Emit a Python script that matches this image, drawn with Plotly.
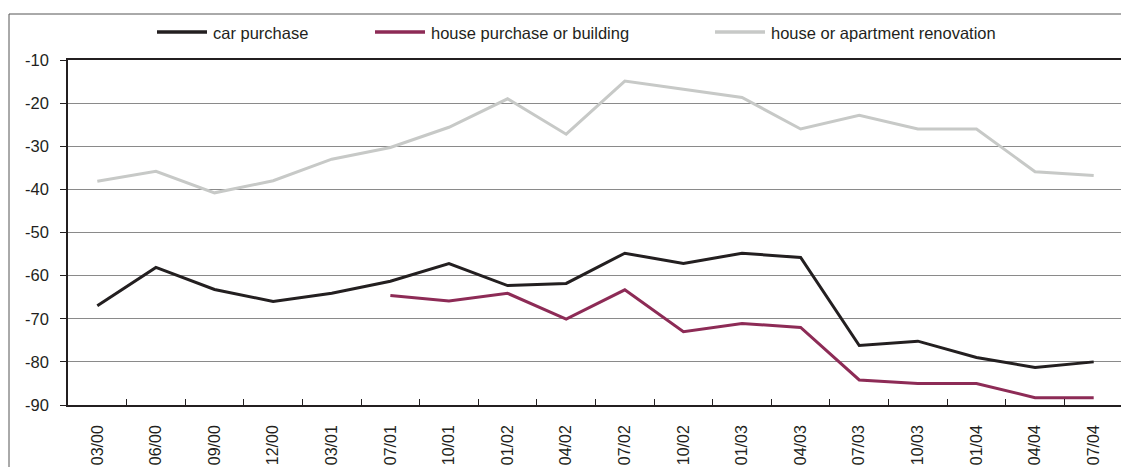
import plotly.graph_objects as go

categories = ["03/00", "06/00", "09/00", "12/00", "03/01", "07/01", "10/01", "01/02", "04/02",
              "07/02", "10/02", "01/03", "04/03", "07/03", "10/03", "01/04", "04/04", "07/04"]

car_purchase = [-67.0, -58.1, -63.2, -66.0, -64.1, -61.3, -57.2, -62.3, -61.8,
                -54.8, -57.2, -54.8, -55.8, -76.2, -75.2, -79.0, -81.3, -80.0]

house_purchase = [None, None, None, None, None, -64.6, -65.9, -64.1, -70.1,
                  -63.3, -73.0, -71.1, -72.0, -84.2, -85.0, -85.0, -88.3, -88.3]

renovation = [-38.1, -35.8, -40.8, -38.0, -33.0, -30.3, -25.6, -19.0, -27.2,
              -14.9, -16.8, -18.7, -26.0, -22.8, -26.0, -26.0, -35.9, -36.8]

y_ticks = [-90, -80, -70, -60, -50, -40, -30, -20, -10]
y_tick_text = ["-90", "-80", "-70", "-60", "-50", "-40", "-30", "-20", "-10"]

series_names = ["car purchase", "house purchase or building", "house or apartment renovation"]
series_colors = ["#231f20", "#8d2b56", "#c7c9c7"]
series_values = [car_purchase, house_purchase, renovation]

# page is drawn with an 8px body offset; layout numbers below are in page pixels
OFF = 8
W, H = 1129 - OFF, 467 - OFF
plot_left, plot_right, plot_top, plot_bottom = 68, 1123, 60, 405
ml = plot_left - OFF
mt = plot_top - OFF
mr = W - (plot_right - OFF)
mb = H - (plot_bottom - OFF)
pw = W - ml - mr
ph = H - mt - mb


def px_x(px):
    return (px - OFF - ml) / pw


def px_y(py):
    return (H - mb - (py - OFF)) / ph


fig = go.Figure()
for name, vals, color in zip(series_names, series_values, series_colors):
    fig.add_trace(go.Scatter(
        x=categories, y=vals, name=name, mode="lines",
        line=dict(color=color, width=3), connectgaps=False, showlegend=False,
    ))

# manual legend (page pixel positions)
legend_line_x = [157, 375, 715]
legend_y = 32
shapes = [
    dict(type="rect", xref="paper", yref="paper",
         x0=px_x(9), x1=px_x(1140), y0=px_y(14), y1=px_y(480),
         line=dict(color="#555555", width=1), fillcolor="rgba(0,0,0,0)", layer="below"),
]
annotations = []
for name, color, lx in zip(series_names, series_colors, legend_line_x):
    shapes.append(dict(type="line", xref="paper", yref="paper",
                       x0=px_x(lx), x1=px_x(lx + 50), y0=px_y(legend_y), y1=px_y(legend_y),
                       line=dict(color=color, width=3.5)))
    annotations.append(dict(text=name, xref="paper", yref="paper",
                            x=px_x(lx + 54), y=px_y(legend_y + 1), xanchor="left", yanchor="middle",
                            showarrow=False, font=dict(size=16.5, color="#231f20")))

fig.update_layout(
    width=W, height=H,
    margin=dict(l=ml, r=mr, t=mt, b=mb, pad=0, autoexpand=False),
    paper_bgcolor="white", plot_bgcolor="white",
    font=dict(family="Liberation Sans, Arial, sans-serif", size=16, color="#231f20"),
    showlegend=False,
    xaxis=dict(
        type="category", range=[-0.5, len(categories) - 0.5], automargin=False,
        showgrid=False, showline=True, linecolor="#231f20", linewidth=1.5,
        mirror=True, ticks="inside", ticklen=6, tickcolor="#231f20", tickson="boundaries",
        tickangle=-90, tickfont=dict(size=16), ticklabelstandoff=12, zeroline=False,
    ),
    yaxis=dict(
        range=[-90, -10], tickvals=y_ticks, ticktext=y_tick_text, automargin=False,
        showgrid=True, gridcolor="#8a8a8a", gridwidth=1,
        showline=True, linecolor="#231f20", linewidth=1.5, mirror=True,
        ticks="outside", ticklen=6, tickcolor="#231f20", tickfont=dict(size=16.5),
        ticklabelstandoff=8, zeroline=False,
    ),
    shapes=shapes,
    annotations=annotations,
)

fig.write_html("out.html")
